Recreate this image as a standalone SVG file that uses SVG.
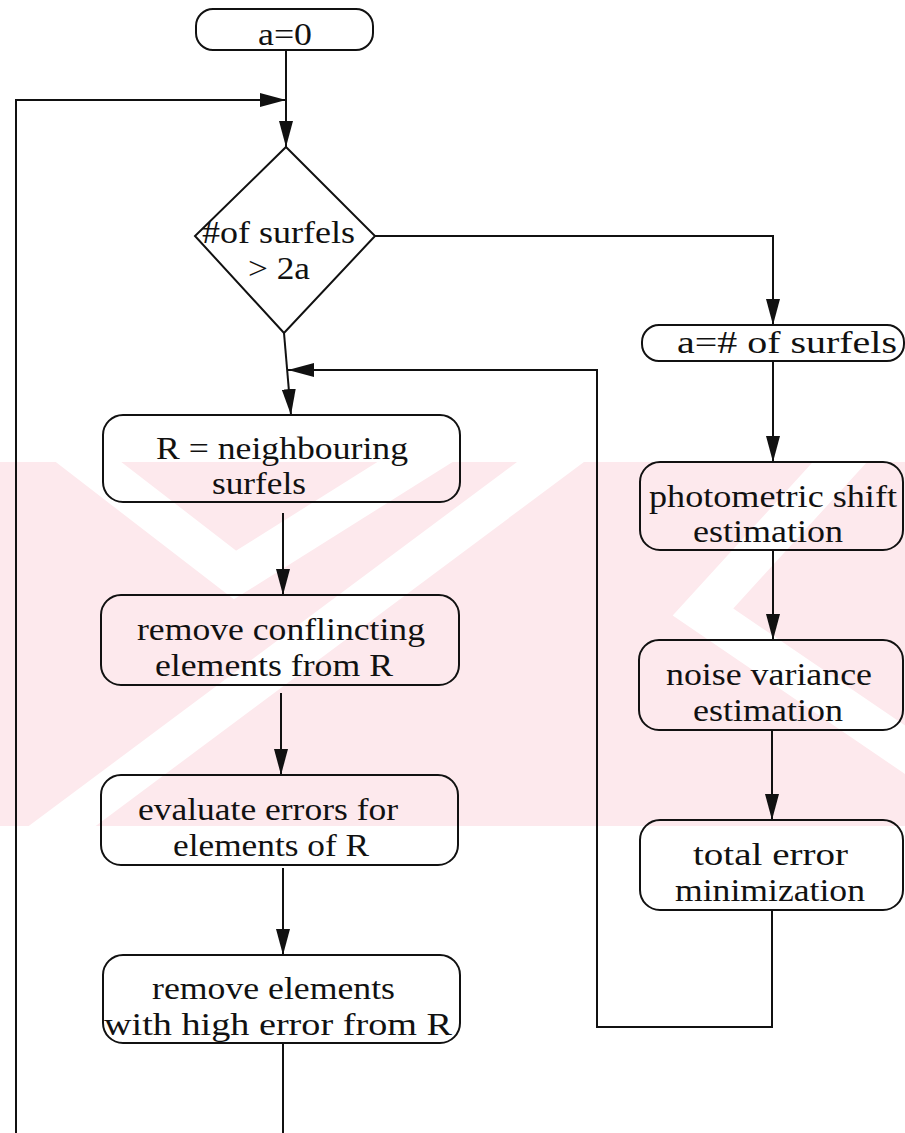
<svg xmlns="http://www.w3.org/2000/svg" width="905" height="1133" viewBox="0 0 905 1133">
<style>
.box{fill:none;stroke:#111;stroke-width:2}
.ln{fill:none;stroke:#111;stroke-width:2}
.t{font-family:"Liberation Serif","Times New Roman",serif;font-size:31px;fill:#111}
.wm{fill:none;stroke:#fff;stroke-width:40}
</style>
<defs>
<marker id="ah" markerUnits="userSpaceOnUse" markerWidth="26" markerHeight="14" refX="26" refY="7" orient="auto">
<path d="M0,0 L26,7 L0,14 z" fill="#111"/>
</marker>
<clipPath id="band"><rect x="0" y="462" width="905" height="364"/></clipPath>
</defs>
<rect width="905" height="1133" fill="#fff"/>
<g id="watermark" clip-path="url(#band)">
<rect x="0" y="462" width="905" height="364" fill="#fde9ed"/>
<polyline class="wm" points="60,440 235,575 450,440"/>
<line class="wm" x1="580" y1="440" x2="30" y2="850"/>
<polyline class="wm" points="860,440 703,612 920,760"/>
</g>
<g id="connectors">
<line class="ln" x1="286" y1="50" x2="286" y2="147" marker-end="url(#ah)"/>
<path class="ln" d="M283,1043 V1134 H16 V100 H286" marker-end="url(#ah)"/>
<path class="ln" d="M375,236 H773 V325" marker-end="url(#ah)"/>
<line class="ln" x1="284" y1="333" x2="291" y2="415" marker-end="url(#ah)"/>
<line class="ln" x1="283" y1="513" x2="283" y2="595" marker-end="url(#ah)"/>
<line class="ln" x1="281" y1="693" x2="281" y2="775" marker-end="url(#ah)"/>
<line class="ln" x1="283" y1="868" x2="283" y2="955" marker-end="url(#ah)"/>
<line class="ln" x1="773" y1="361" x2="773" y2="462" marker-end="url(#ah)"/>
<line class="ln" x1="773" y1="550" x2="773" y2="640" marker-end="url(#ah)"/>
<line class="ln" x1="772" y1="730" x2="772" y2="820" marker-end="url(#ah)"/>
<path class="ln" d="M772,910 V1027 H597 V370 H288" marker-end="url(#ah)"/>
</g>
<g id="start">
<rect class="box" x="196" y="9" width="177" height="41" rx="17"/>
<text class="t" x="258" y="45" font-size="30" textLength="54" lengthAdjust="spacingAndGlyphs">a=0</text>
</g>
<g id="decision">
<polygon class="box" points="286,147 375,236 284,333 195,236"/>
<text class="t" x="202" y="243" textLength="153" lengthAdjust="spacingAndGlyphs">#of surfels</text>
<text class="t" x="248" y="279" textLength="62" lengthAdjust="spacingAndGlyphs">&gt; 2a</text>
</g>
<g id="set-a">
<rect class="box" x="642" y="325" width="262" height="36" rx="17"/>
<text class="t" x="677" y="353" textLength="220" lengthAdjust="spacingAndGlyphs">a=# of surfels</text>
</g>
<g id="neighbours">
<rect class="box" x="103" y="415" width="357" height="87" rx="20"/>
<text class="t" x="156" y="459" textLength="252" lengthAdjust="spacingAndGlyphs">R = neighbouring</text>
<text class="t" x="212" y="494" textLength="94" lengthAdjust="spacingAndGlyphs">surfels</text>
</g>
<g id="remove-conflicting">
<rect class="box" x="101" y="595" width="358" height="90" rx="20"/>
<text class="t" x="137" y="640" textLength="288" lengthAdjust="spacingAndGlyphs">remove conflincting</text>
<text class="t" x="155" y="676" textLength="238" lengthAdjust="spacingAndGlyphs">elements from R</text>
</g>
<g id="evaluate">
<rect class="box" x="101" y="775" width="357" height="90" rx="20"/>
<text class="t" x="138" y="820" textLength="260" lengthAdjust="spacingAndGlyphs">evaluate errors for</text>
<text class="t" x="173" y="856" textLength="196" lengthAdjust="spacingAndGlyphs">elements of R</text>
</g>
<g id="remove-high">
<rect class="box" x="103" y="955" width="357" height="88" rx="20"/>
<text class="t" x="152" y="999" textLength="243" lengthAdjust="spacingAndGlyphs">remove elements</text>
<text class="t" x="104" y="1035" textLength="348" lengthAdjust="spacingAndGlyphs">with high error from R</text>
</g>
<g id="photometric">
<rect class="box" x="640" y="462" width="263" height="88" rx="20"/>
<text class="t" x="649" y="507" textLength="248" lengthAdjust="spacingAndGlyphs">photometric shift</text>
<text class="t" x="693" y="542" textLength="150" lengthAdjust="spacingAndGlyphs">estimation</text>
</g>
<g id="noise">
<rect class="box" x="639" y="640" width="264" height="90" rx="20"/>
<text class="t" x="666" y="685" textLength="206" lengthAdjust="spacingAndGlyphs">noise variance</text>
<text class="t" x="693" y="721" textLength="150" lengthAdjust="spacingAndGlyphs">estimation</text>
</g>
<g id="total">
<rect class="box" x="640" y="820" width="263" height="90" rx="20"/>
<text class="t" x="693" y="865" textLength="155" lengthAdjust="spacingAndGlyphs">total error</text>
<text class="t" x="675" y="901" textLength="190" lengthAdjust="spacingAndGlyphs">minimization</text>
</g>
</svg>
